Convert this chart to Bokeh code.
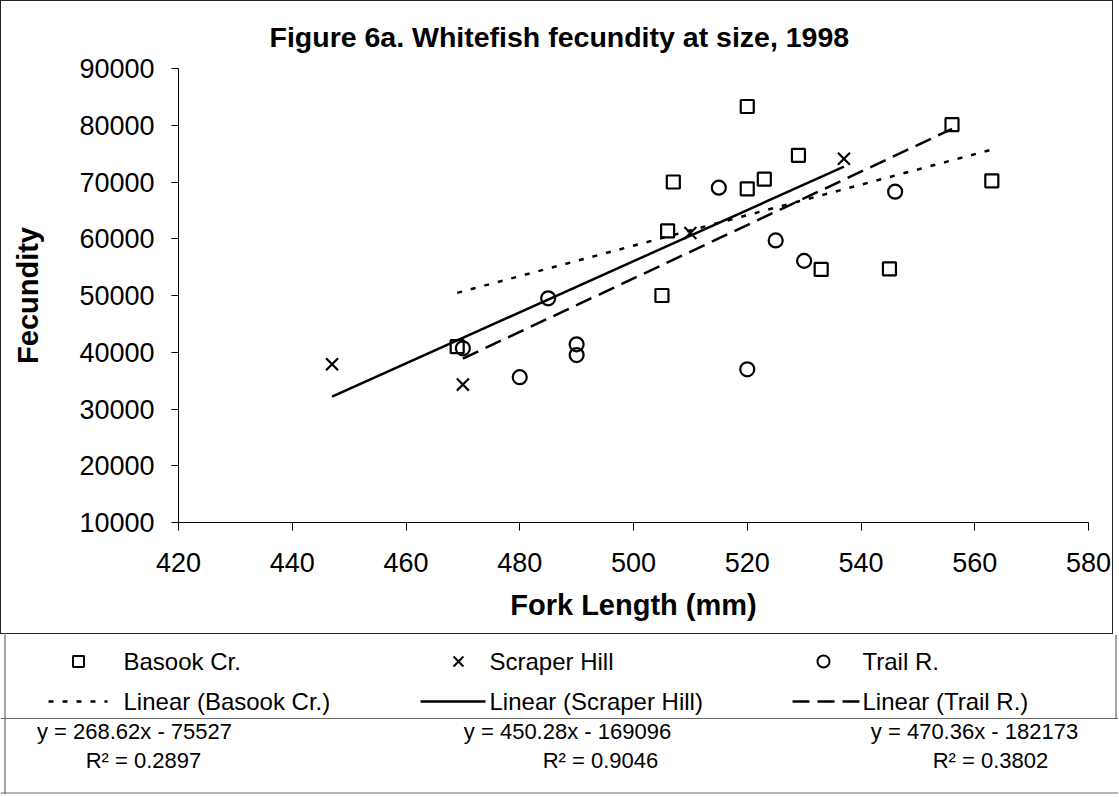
from bokeh.plotting import figure
from bokeh.models import Range1d, FixedTicker
from bokeh.core.properties import value
from bokeh.embed import file_html
from bokeh.resources import INLINE

# ---------------- data ----------------
basook_x = [469, 505, 506, 507, 520, 520, 523, 529, 533, 545, 556, 563]
basook_y = [41000, 50000, 61400, 70000, 83300, 68800, 70500, 74700, 54600, 54700, 80100, 70200]
scraper_x = [447, 470, 510, 537]
scraper_y = [37900, 34300, 61000, 74100]
trail_x = [470, 480, 485, 490, 490, 515, 520, 525, 530, 546]
trail_y = [40700, 35600, 49500, 41400, 39500, 69000, 37000, 59700, 56100, 68300]

series_names = ["Basook Cr.", "Scraper Hill", "Trail R."]
trend_slopes = [268.62, 450.28, 470.36]
trend_intercepts = [-75527, -169096, -182173]
trend_r2 = [0.2897, 0.9046, 0.3802]
trend_x_start = [469, 447, 470]
trend_x_end = [563, 537, 556]

x_ticks = [420, 440, 460, 480, 500, 520, 540, 560, 580]
y_ticks = [10000, 20000, 30000, 40000, 50000, 60000, 70000, 80000, 90000]
x_tick_labels = [str(t) for t in x_ticks]
y_tick_labels = [str(t) for t in y_ticks]

title_text = "Figure 6a.  Whitefish fecundity at size, 1998"
x_title = "Fork Length (mm)"
y_title = "Fecundity"

FONT = "Liberation Sans"
W1 = 1113
W2 = 1118
H1 = 634
H2 = 160

# ---------------- main chart ----------------
p = figure(width=W1, height=H1, x_range=Range1d(420, 580), y_range=Range1d(10000, 90000),
           output_backend="svg", toolbar_location=None,
           min_border_left=177, min_border_right=W1 - 1087, min_border_top=67,
           min_border_bottom=H1 - 521)
p.xgrid.visible = False
p.ygrid.visible = False
p.outline_line_color = None
p.background_fill_color = "white"
p.border_fill_color = "white"
p.styles = {"border": "1px solid #222222"}

p.title.text = title_text
p.title.text_font = FONT
p.title.text_font_size = "28.5px"
p.title.text_font_style = "bold"
p.title.text_color = "black"
p.title.align = "left"
p.title.offset = 91
p.title.standoff = 32

for ax, ticks, labels in ((p.xaxis[0], x_ticks, x_tick_labels), (p.yaxis[0], y_ticks, y_tick_labels)):
    ax.ticker = FixedTicker(ticks=ticks)
    ax.major_label_overrides = {t: l for t, l in zip(ticks, labels)}
    ax.minor_tick_line_color = None
    ax.major_tick_in = 0
    ax.axis_line_color = "black"
    ax.major_tick_line_color = "black"
    ax.major_label_text_font = FONT
    ax.major_label_text_font_size = "27px"
    ax.major_label_text_color = "black"
    ax.axis_label_text_font = FONT
    ax.axis_label_text_font_size = "29px"
    ax.axis_label_text_font_style = "bold"
    ax.axis_label_text_color = "black"

p.xaxis.axis_label = x_title
p.yaxis.axis_label = y_title
p.xaxis.major_tick_out = 8
p.yaxis.major_tick_out = 7
p.xaxis.major_label_standoff = 22
p.yaxis.major_label_standoff = 17
p.xaxis.axis_label_standoff = 14
p.yaxis.axis_label_standoff = 32

# trend lines
dashes = ["5 9", "solid", "17 8"]
for i in range(3):
    xs = [trend_x_start[i], trend_x_end[i]]
    ys = [trend_slopes[i] * x + trend_intercepts[i] for x in xs]
    p.line(xs, ys, line_color="black", line_width=2.5, line_dash=dashes[i])

# points
p.scatter(basook_x, basook_y, marker="square", size=13, fill_color=None,
          line_color="black", line_width=2.2)
p.scatter(scraper_x, scraper_y, marker="x", size=17, line_color="black", line_width=2.2)
p.scatter(trail_x, trail_y, marker="circle", size=14, fill_color=None,
          line_color="black", line_width=2.2)

# ---------------- legend + equations ----------------
q = figure(width=W2, height=H2, x_range=Range1d(0, W2), y_range=Range1d(H2, 0),
           output_backend="svg", toolbar_location=None, min_border=0)
q.axis.visible = False
q.grid.visible = False
q.outline_line_color = None
q.border_fill_color = "white"
q.background_fill_color = "white"

# frame lines (left, right of legend box, separators, bottom)
q.segment([4.5, 1115.5, 0, 0], [0, 0, 84, H2 - 1.5],
          [4.5, 1115.5, W2, W2], [H2, 84, 84, H2 - 1.5],
          line_color="#666666", line_width=1.2)

row1 = 27
row2 = 67
col_mark = [78, 458, 823]
col_text = [123, 489, 862]
col_line0 = [48, 420, 792]
col_line1 = [107, 485, 860]
markers = ["square", "x", "circle"]
msize = [11, 14, 12]
for i in range(3):
    q.scatter([col_mark[i]], [row1], marker=markers[i], size=msize[i], fill_color=None,
              line_color="black", line_width=2)
    q.text([col_text[i]], [row1], text=[series_names[i]], text_font=value(FONT),
           text_font_size="24px", text_baseline="middle", text_align="left", text_color="black")
    q.segment([col_line0[i]], [row2], [col_line1[i]], [row2], line_color="black",
              line_width=2.5, line_dash=dashes[i])
    q.text([col_text[i]], [row2], text=["Linear (" + series_names[i] + ")"], text_font=value(FONT),
           text_font_size="24px", text_baseline="middle", text_align="left", text_color="black")

eq_labels = ["y = %.2fx - %d" % (s, -b) for s, b in zip(trend_slopes, trend_intercepts)]
r2_labels = ["R\u00b2 = %.4f" % r for r in trend_r2]
eq_cx = [134, 567, 974]
r2_cx = [143, 600, 990]
q.text(eq_cx, [97] * 3, text=eq_labels, text_font=value(FONT), text_font_size="22px",
       text_baseline="middle", text_align="center", text_color="black")
q.text(r2_cx, [126] * 3, text=r2_labels, text_font=value(FONT), text_font_size="22px",
       text_baseline="middle", text_align="center", text_color="black")

open("out.html", "w").write(file_html([p, q], INLINE))
